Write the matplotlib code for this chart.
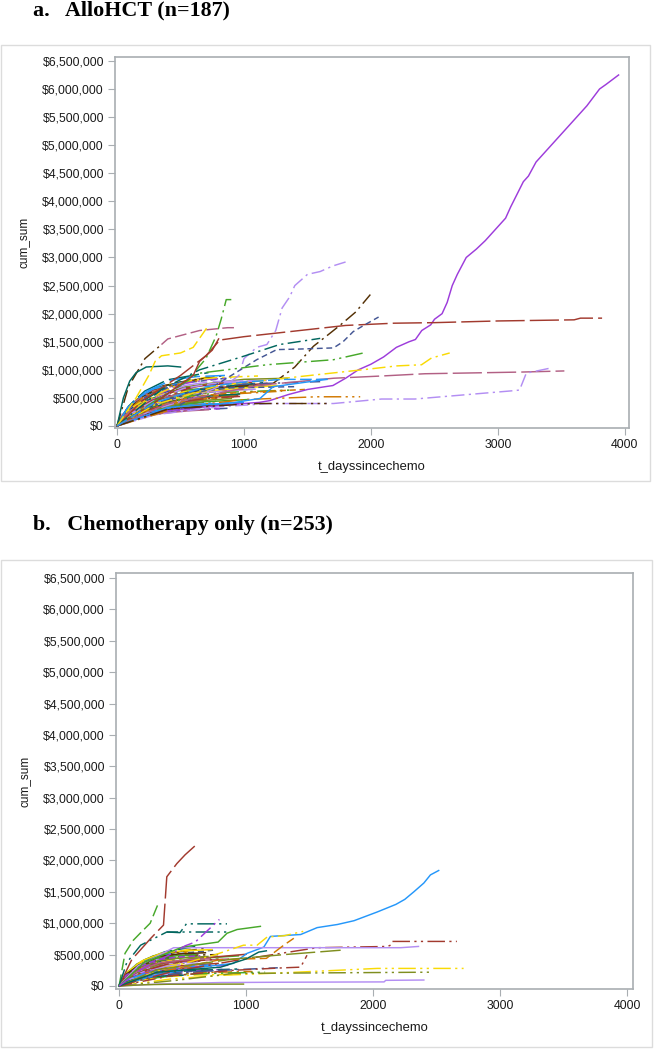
import matplotlib
matplotlib.use("Agg")
import matplotlib.pyplot as plt
from matplotlib.patches import Rectangle
from matplotlib.ticker import FuncFormatter

W, H = 654, 1050

yticks = [0, 500000, 1000000, 1500000, 2000000, 2500000, 3000000, 3500000,
          4000000, 4500000, 5000000, 5500000, 6000000, 6500000]
xticks = [0, 1000, 2000, 3000, 4000]
title_a = "a.   AlloHCT (n=187)"
title_b = "b.   Chemotherapy only (n=253)"

# SAS default group colours
PALETTE = ["#445694", "#A23A2E", "#01665E", "#543005", "#9D3CDB", "#7F8E1F",
           "#2597FA", "#B26084", "#D17800", "#47A82A", "#B38EF3", "#F9DA04"]
SOLID = "-"
LONG = (0, (20, 3.5))
DASH = (0, (8, 3))
SHORT = (0, (4, 2.5))
DDOT = (0, (9, 3, 1.5, 3))
DDD = (0, (12, 3, 1.5, 3, 1.5, 3))
PATTERNS = [SOLID, DASH, DDOT, SHORT, DDD, LONG, SOLID, DDOT]

# --- a. the curves you can follow by eye
a_long_days = [
    [0, 300, 700, 1000, 1120, 1200, 1350, 1500, 1640, 1700, 1800, 1900, 2000, 2100, 2200, 2300, 2350, 2400,
     2470, 2500, 2560, 2600, 2640, 2680, 2750, 2830, 2900, 3000, 3060, 3100, 3200, 3240, 3300, 3400, 3500,
     3600, 3700, 3800, 3850, 3950],
    [0, 200, 500, 700, 810, 1000, 1440, 1800, 2180, 2500, 3000, 3600, 3650, 3820],
    [0, 300, 600, 900, 960, 1000, 1100, 1180, 1250, 1300, 1360, 1400, 1500, 1600, 1700, 1800],
    [0, 300, 550, 700, 780, 820, 860, 900],
    [1230, 1400, 1547, 1660, 1760, 1880, 1995],
    [0, 90, 220, 350],
    [350, 400, 650, 870, 950],
    [0, 500, 800, 1100, 1258, 1440, 1705, 1780, 1860, 1950, 2060],
    [0, 350, 650, 995, 1280, 1600],
    [0, 300, 650, 1180, 1705, 1940],
    [0, 300, 800, 1440, 1970, 2205, 2398, 2476, 2620],
    [0, 400, 1100, 1705, 2084, 2424, 3183, 3523],
    [0, 300, 800, 1200, 1705, 2084, 2346, 3131, 3170, 3223, 3432],
    [0, 500, 1000, 1574, 1915],
    [0, 400, 900, 1126, 1230, 1650],
    [0, 400, 1000, 1126, 1650],
    [0, 20, 50, 100, 150, 230, 400, 500],
    [0, 150, 250, 300, 350, 500, 600, 705],
    [0, 300, 600, 650, 750, 800],
    [0, 300, 700, 1000, 1300, 1680],
]
a_long_cost = [
    [0, 250000, 340000, 400000, 420000, 450000, 560000, 650000, 700000, 720000, 850000, 1000000, 1100000,
     1230000, 1400000, 1500000, 1540000, 1700000, 1800000, 1900000, 2000000, 2200000, 2500000, 2700000,
     3000000, 3150000, 3300000, 3550000, 3700000, 3900000, 4350000, 4450000, 4700000, 4950000, 5200000,
     5450000, 5700000, 6000000, 6080000, 6250000],
    [0, 450000, 900000, 1250000, 1530000, 1590000, 1700000, 1790000, 1830000, 1840000, 1870000,
     1890000, 1920000, 1920000],
    [0, 300000, 500000, 800000, 900000, 1200000, 1400000, 1450000, 1700000, 2100000, 2300000, 2500000,
     2700000, 2750000, 2850000, 2920000],
    [0, 420000, 800000, 1200000, 1600000, 1900000, 2250000, 2250000],
    [760000, 1050000, 1420000, 1620000, 1800000, 2030000, 2340000],
    [0, 700000, 1200000, 1450000],
    [1450000, 1550000, 1700000, 1750000, 1750000],
    [0, 380000, 760000, 1180000, 1360000, 1370000, 1390000, 1500000, 1680000, 1800000, 1940000],
    [0, 650000, 1000000, 1240000, 1450000, 1560000],
    [0, 450000, 940000, 1090000, 1180000, 1300000],
    [0, 380000, 720000, 880000, 1010000, 1070000, 1090000, 1210000, 1300000],
    [0, 400000, 720000, 850000, 890000, 930000, 960000, 980000],
    [0, 200000, 340000, 400000, 400000, 480000, 480000, 630000, 640000, 940000, 1040000],
    [0, 340000, 470000, 520000, 520000],
    [0, 330000, 410000, 490000, 700000, 830000],
    [0, 300000, 390000, 400000, 400000],
    [0, 200000, 500000, 800000, 950000, 1050000, 1070000, 1050000],
    [0, 500000, 900000, 1150000, 1250000, 1300000, 1400000, 1740000],
    [0, 420000, 900000, 1150000, 1350000, 1550000],
    [0, 420000, 700000, 780000, 830000, 830000],
]
a_long_colors = [PALETTE[4], PALETTE[1], PALETTE[10], PALETTE[9], PALETTE[3], PALETTE[3],
                 PALETTE[7], PALETTE[0], PALETTE[2], PALETTE[9], PALETTE[11], PALETTE[7],
                 PALETTE[10], PALETTE[8], PALETTE[6], PALETTE[3], PALETTE[2], PALETTE[11],
                 PALETTE[1], PALETTE[6]]
a_long_styles = [SOLID, LONG, DDOT, DDOT, DDOT, DDOT, DASH, SHORT, DDOT, DDD, DDOT, LONG,
                 DDOT, DDD, SOLID, DDD, SOLID, DASH, SOLID, DASH]

# --- a. the dense bundle near the origin
a_bundle_days = [
    [0, 60, 150, 300, 420], [0, 40, 120, 260, 480], [0, 80, 200, 350, 560], [0, 30, 90, 210, 390],
    [0, 70, 180, 320, 620], [0, 50, 130, 280, 510], [0, 90, 220, 400, 700], [0, 25, 70, 180, 340],
    [0, 65, 160, 310, 590], [0, 45, 110, 250, 460], [0, 100, 240, 430, 760], [0, 35, 100, 230, 410],
    [0, 75, 190, 360, 640], [0, 55, 140, 270, 530], [0, 85, 210, 380, 680], [0, 20, 60, 150, 300],
    [0, 95, 230, 450, 820], [0, 42, 115, 240, 440], [0, 68, 170, 330, 600], [0, 52, 125, 290, 500],
    [0, 110, 260, 470, 880], [0, 33, 85, 200, 370], [0, 78, 195, 370, 660], [0, 58, 145, 300, 550],
    [0, 120, 280, 520, 950], [0, 28, 75, 170, 320], [0, 88, 215, 410, 730], [0, 48, 118, 255, 470],
    [0, 72, 175, 340, 610], [0, 62, 155, 295, 570], [0, 130, 300, 560, 1020], [0, 38, 95, 220, 400],
    [0, 82, 205, 390, 700], [0, 44, 105, 235, 430], [0, 105, 250, 490, 850], [0, 22, 65, 160, 310],
    [0, 92, 225, 420, 780], [0, 56, 135, 285, 520], [0, 66, 165, 325, 580], [0, 36, 88, 205, 380],
    [0, 140, 320, 600, 1100], [0, 76, 185, 350, 630], [0, 50, 128, 265, 490], [0, 115, 270, 500, 900],
    [0, 30, 80, 190, 360], [0, 98, 235, 440, 800], [0, 60, 150, 305, 540], [0, 84, 200, 375, 670],
    [0, 150, 360, 640, 1180], [0, 46, 112, 245, 450], [0, 70, 178, 335, 595], [0, 125, 290, 540, 980],
    [0, 26, 72, 175, 330], [0, 90, 218, 395, 720], [0, 54, 132, 275, 505], [0, 108, 255, 480, 870],
]
a_bundle_cost = [
    [0, 180000, 320000, 470000, 540000], [0, 130000, 280000, 420000, 590000],
    [0, 240000, 410000, 560000, 640000], [0, 90000, 190000, 330000, 480000],
    [0, 150000, 300000, 430000, 520000], [0, 200000, 370000, 600000, 700000],
    [0, 170000, 290000, 390000, 470000], [0, 110000, 260000, 440000, 620000],
    [0, 260000, 480000, 690000, 800000], [0, 120000, 220000, 310000, 390000],
    [0, 210000, 350000, 510000, 610000], [0, 160000, 340000, 540000, 730000],
    [0, 140000, 250000, 350000, 420000], [0, 230000, 430000, 630000, 760000],
    [0, 190000, 330000, 450000, 500000], [0, 70000, 150000, 260000, 360000],
    [0, 280000, 460000, 620000, 700000], [0, 100000, 210000, 300000, 370000],
    [0, 220000, 400000, 580000, 680000], [0, 175000, 360000, 500000, 650000],
    [0, 125000, 240000, 340000, 410000], [0, 145000, 310000, 490000, 660000],
    [0, 300000, 520000, 720000, 840000], [0, 85000, 180000, 280000, 350000],
    [0, 250000, 380000, 480000, 540000], [0, 60000, 130000, 230000, 310000],
    [0, 320000, 550000, 740000, 880000], [0, 165000, 345000, 530000, 710000],
    [0, 115000, 205000, 290000, 340000], [0, 195000, 385000, 570000, 690000],
    [0, 270000, 440000, 590000, 650000], [0, 80000, 170000, 270000, 330000],
    [0, 205000, 365000, 520000, 580000], [0, 135000, 275000, 405000, 560000],
    [0, 340000, 600000, 780000, 900000], [0, 65000, 140000, 250000, 320000],
    [0, 155000, 265000, 370000, 440000], [0, 225000, 455000, 660000, 780000],
    [0, 185000, 325000, 465000, 530000], [0, 95000, 200000, 320000, 430000],
    [0, 290000, 470000, 640000, 720000], [0, 105000, 195000, 280000, 345000],
    [0, 235000, 420000, 610000, 740000], [0, 360000, 580000, 760000, 860000],
    [0, 75000, 160000, 240000, 300000], [0, 215000, 355000, 475000, 545000],
    [0, 128000, 235000, 325000, 380000], [0, 265000, 495000, 700000, 820000],
    [0, 310000, 500000, 650000, 760000], [0, 88000, 175000, 260000, 325000],
    [0, 245000, 415000, 555000, 625000], [0, 148000, 255000, 345000, 400000],
    [0, 55000, 125000, 215000, 285000], [0, 350000, 620000, 820000, 950000],
    [0, 178000, 315000, 460000, 575000], [0, 112000, 190000, 270000, 315000],
]

# --- a. curves that go flat after the first year
a_flat_days = [
    [0, 120, 300, 520, 800, 1000, 1340], [0, 90, 260, 480, 700, 1120], [0, 140, 350, 560, 760, 1210],
    [0, 100, 240, 430, 620, 920], [0, 160, 380, 600, 850, 1080], [0, 70, 210, 400, 650, 1000],
    [0, 110, 280, 500, 780, 1260], [0, 130, 320, 540, 720, 860], [0, 80, 230, 450, 680, 1030],
    [0, 150, 360, 580, 820, 1150], [0, 60, 190, 380, 590, 780], [0, 170, 400, 640, 900, 1400],
    [0, 95, 250, 470, 690, 950], [0, 125, 310, 530, 740, 1180], [0, 75, 220, 420, 610, 830],
    [0, 145, 340, 570, 830, 1300], [0, 105, 270, 490, 710, 1060], [0, 85, 235, 440, 640, 890],
    [0, 135, 330, 550, 770, 1110], [0, 65, 200, 390, 580, 810], [0, 155, 370, 590, 860, 1380],
    [0, 115, 290, 510, 750, 970], [0, 55, 180, 370, 560, 720], [0, 175, 410, 660, 940, 1600],
    [0, 90, 245, 460, 660, 900], [0, 120, 305, 525, 735, 1070], [0, 70, 215, 410, 600, 770],
    [0, 140, 345, 575, 840, 1480], [0, 100, 265, 485, 700, 1000], [0, 80, 225, 435, 630, 850],
]
a_flat_cost = [
    [0, 230000, 480000, 690000, 780000, 830000, 850000], [0, 180000, 360000, 520000, 600000, 660000],
    [0, 200000, 420000, 590000, 680000, 740000], [0, 140000, 280000, 400000, 470000, 520000],
    [0, 260000, 520000, 700000, 770000, 800000], [0, 110000, 230000, 340000, 390000, 420000],
    [0, 190000, 390000, 560000, 640000, 720000], [0, 280000, 560000, 760000, 830000, 850000],
    [0, 130000, 260000, 360000, 430000, 470000], [0, 210000, 440000, 620000, 700000, 770000],
    [0, 90000, 190000, 280000, 330000, 350000], [0, 240000, 460000, 610000, 680000, 700000],
    [0, 150000, 310000, 440000, 510000, 560000], [0, 250000, 500000, 720000, 790000, 810000],
    [0, 100000, 210000, 300000, 360000, 380000], [0, 170000, 340000, 470000, 560000, 620000],
    [0, 220000, 450000, 650000, 730000, 780000], [0, 120000, 240000, 330000, 380000, 400000],
    [0, 300000, 580000, 800000, 860000, 890000], [0, 80000, 170000, 250000, 290000, 310000],
    [0, 200000, 400000, 540000, 600000, 640000], [0, 160000, 330000, 480000, 540000, 570000],
    [0, 70000, 150000, 230000, 270000, 290000], [0, 260000, 490000, 660000, 740000, 790000],
    [0, 135000, 270000, 380000, 450000, 490000], [0, 235000, 470000, 670000, 750000, 800000],
    [0, 95000, 200000, 290000, 340000, 360000], [0, 180000, 370000, 510000, 580000, 650000],
    [0, 145000, 300000, 420000, 490000, 530000], [0, 320000, 610000, 820000, 880000, 900000],
]

# --- b. the curves you can follow by eye
b_long_days = [
    [0, 100, 250, 350, 376, 455, 520, 613],
    [0, 47, 113, 166, 245, 310],
    [0, 300, 640, 900, 1008, 1140, 1192, 1430, 1560, 1720, 1850, 2034, 2180, 2250, 2321, 2400, 2452, 2517],
    [0, 400, 900, 1400, 1560, 2113, 2138, 2151, 2660],
    [0, 150, 430, 2218, 2358],
    [0, 400, 800, 1297, 2034, 2713],
    [0, 450, 900, 2473],
    [0, 300, 800, 1300, 2087, 2100, 2400],
    [0, 200, 400, 980],
    [0, 60, 170, 376, 850],
    [376, 480, 530, 850],
    [0, 200, 500, 780, 850, 930, 1113],
    [0, 300, 760, 980, 1087, 1166, 1300, 1450],
    [0, 300, 800, 1160, 1297, 1376],
    [0, 300, 900, 1300, 1745],
    [0, 400, 900, 1300, 1430, 1480],
    [0, 300, 800, 1000, 1100, 1160],
    [0, 200, 420, 520, 600, 790],
]
b_long_cost = [
    [0, 420000, 760000, 970000, 1740000, 1950000, 2090000, 2260000],
    [0, 520000, 730000, 840000, 1000000, 1320000],
    [0, 180000, 300000, 360000, 520000, 620000, 790000, 820000, 930000, 980000, 1040000, 1180000, 1300000,
     1380000, 1500000, 1640000, 1770000, 1840000],
    [0, 220000, 400000, 560000, 610000, 630000, 650000, 710000, 710000],
    [0, 320000, 610000, 610000, 630000],
    [0, 110000, 170000, 210000, 280000, 280000],
    [0, 90000, 200000, 220000],
    [0, 30000, 55000, 60000, 65000, 90000, 95000],
    [0, 20000, 28000, 30000],
    [0, 370000, 650000, 860000, 860000],
    [860000, 850000, 990000, 990000],
    [0, 380000, 620000, 700000, 840000, 900000, 950000],
    [0, 240000, 500000, 650000, 650000, 780000, 800000, 870000],
    [0, 220000, 420000, 440000, 650000, 760000],
    [0, 260000, 430000, 500000, 570000],
    [0, 160000, 250000, 290000, 300000, 490000],
    [0, 220000, 300000, 430000, 540000, 560000],
    [0, 300000, 520000, 640000, 700000, 1060000],
]
b_long_colors = [PALETTE[1], PALETTE[9], PALETTE[6], PALETTE[1], PALETTE[10], PALETTE[11],
                 PALETTE[5], PALETTE[10], PALETTE[5], PALETTE[2], PALETTE[2], PALETTE[9],
                 PALETTE[11], PALETTE[8], PALETTE[5], PALETTE[1], PALETTE[2], PALETTE[4]]
b_long_styles = [LONG, DASH, SOLID, DDD, SOLID, DDD, DDD, SOLID, SOLID, DDD, DDD, SOLID,
                 DDOT, DASH, LONG, DDOT, SOLID, DDOT]

# --- b. the dense bundle near the origin
b_bundle_days = [
    [0, 50, 130, 260, 420], [0, 35, 95, 200, 360], [0, 70, 170, 320, 520], [0, 25, 70, 160, 300],
    [0, 60, 150, 280, 470], [0, 45, 110, 230, 400], [0, 80, 190, 350, 580], [0, 20, 55, 130, 260],
    [0, 55, 140, 270, 450], [0, 40, 100, 215, 380], [0, 90, 210, 380, 640], [0, 30, 80, 180, 330],
    [0, 65, 160, 300, 500], [0, 48, 120, 245, 430], [0, 75, 180, 335, 550], [0, 18, 50, 120, 240],
    [0, 85, 200, 365, 610], [0, 38, 98, 205, 370], [0, 58, 145, 275, 460], [0, 44, 108, 225, 395],
    [0, 100, 230, 420, 700], [0, 28, 75, 170, 315], [0, 68, 165, 310, 510], [0, 52, 128, 255, 440],
    [0, 110, 260, 470, 780], [0, 22, 60, 140, 275], [0, 78, 185, 345, 565], [0, 42, 105, 220, 390],
    [0, 62, 155, 290, 485], [0, 56, 135, 265, 445], [0, 120, 280, 510, 860], [0, 32, 85, 190, 345],
    [0, 72, 175, 328, 530], [0, 36, 92, 198, 355], [0, 95, 220, 400, 670], [0, 24, 65, 150, 285],
    [0, 82, 195, 358, 595], [0, 46, 115, 235, 410], [0, 60, 148, 283, 475], [0, 34, 88, 195, 350],
    [0, 130, 300, 550, 940], [0, 66, 158, 305, 495], [0, 50, 125, 250, 425], [0, 105, 245, 445, 740],
    [0, 26, 70, 165, 305], [0, 88, 205, 375, 625], [0, 54, 138, 268, 455], [0, 74, 178, 340, 540],
    [0, 140, 330, 600, 1000], [0, 40, 102, 212, 385], [0, 64, 152, 295, 490], [0, 115, 270, 490, 820],
    [0, 20, 58, 135, 268], [0, 84, 198, 362, 600], [0, 47, 118, 240, 415], [0, 98, 225, 410, 685],
]
b_bundle_cost = [
    [0, 120000, 230000, 330000, 390000], [0, 90000, 180000, 280000, 360000],
    [0, 170000, 290000, 390000, 430000], [0, 60000, 130000, 220000, 310000],
    [0, 100000, 200000, 280000, 330000], [0, 140000, 270000, 400000, 470000],
    [0, 110000, 190000, 250000, 300000], [0, 75000, 170000, 290000, 410000],
    [0, 190000, 350000, 480000, 540000], [0, 80000, 150000, 205000, 250000],
    [0, 150000, 240000, 340000, 400000], [0, 105000, 230000, 360000, 480000],
    [0, 95000, 165000, 235000, 280000], [0, 160000, 300000, 430000, 500000],
    [0, 130000, 220000, 295000, 330000], [0, 48000, 100000, 170000, 240000],
    [0, 200000, 310000, 420000, 470000], [0, 68000, 140000, 200000, 245000],
    [0, 155000, 275000, 385000, 450000], [0, 118000, 240000, 330000, 430000],
    [0, 85000, 160000, 225000, 270000], [0, 98000, 205000, 325000, 440000],
    [0, 215000, 360000, 490000, 560000], [0, 58000, 120000, 185000, 230000],
    [0, 175000, 255000, 320000, 360000], [0, 40000, 88000, 150000, 205000],
    [0, 230000, 380000, 500000, 590000], [0, 112000, 228000, 352000, 470000],
    [0, 78000, 138000, 195000, 225000], [0, 135000, 258000, 378000, 460000],
    [0, 185000, 295000, 395000, 430000], [0, 54000, 112000, 180000, 220000],
    [0, 142000, 245000, 345000, 385000], [0, 92000, 185000, 270000, 370000],
    [0, 240000, 400000, 520000, 600000], [0, 44000, 94000, 165000, 215000],
    [0, 108000, 178000, 245000, 290000], [0, 158000, 305000, 440000, 520000],
    [0, 128000, 218000, 310000, 350000], [0, 64000, 135000, 212000, 285000],
    [0, 205000, 315000, 430000, 480000], [0, 72000, 130000, 186000, 230000],
    [0, 165000, 282000, 405000, 490000], [0, 250000, 390000, 510000, 570000],
    [0, 50000, 108000, 160000, 200000], [0, 150000, 238000, 316000, 362000],
    [0, 88000, 158000, 216000, 252000], [0, 185000, 332000, 465000, 545000],
    [0, 220000, 335000, 435000, 505000], [0, 60000, 118000, 172000, 215000],
    [0, 170000, 278000, 370000, 415000], [0, 102000, 172000, 230000, 265000],
    [0, 37000, 84000, 142000, 190000], [0, 245000, 415000, 545000, 630000],
    [0, 122000, 212000, 306000, 382000], [0, 76000, 128000, 180000, 210000],
]

# --- b. curves that go flat after the first year
b_flat_days = [
    [0, 60, 170, 320, 480, 700], [0, 45, 140, 280, 430, 620], [0, 75, 200, 360, 520, 780],
    [0, 55, 155, 300, 460, 650], [0, 90, 230, 400, 580, 820], [0, 35, 120, 250, 400, 560],
    [0, 65, 180, 330, 500, 730], [0, 80, 210, 380, 550, 860], [0, 50, 150, 290, 440, 600],
    [0, 100, 250, 430, 620, 930], [0, 40, 130, 265, 415, 590], [0, 70, 190, 345, 510, 760],
    [0, 85, 220, 390, 570, 800], [0, 30, 105, 230, 380, 520], [0, 60, 165, 310, 470, 680],
    [0, 110, 270, 460, 660, 1050], [0, 45, 145, 285, 435, 610], [0, 75, 195, 355, 530, 750],
    [0, 95, 240, 420, 600, 900], [0, 55, 160, 305, 450, 640], [0, 120, 290, 490, 700, 1150],
    [0, 35, 115, 240, 390, 540], [0, 65, 175, 325, 490, 710], [0, 130, 310, 520, 760, 1250],
]
b_flat_cost = [
    [0, 160000, 300000, 410000, 450000, 470000], [0, 120000, 230000, 320000, 370000, 390000],
    [0, 200000, 350000, 450000, 490000, 500000], [0, 90000, 180000, 250000, 280000, 300000],
    [0, 140000, 260000, 360000, 400000, 430000], [0, 70000, 140000, 210000, 240000, 260000],
    [0, 220000, 400000, 520000, 560000, 580000], [0, 110000, 190000, 260000, 300000, 330000],
    [0, 175000, 320000, 440000, 480000, 500000], [0, 100000, 170000, 230000, 250000, 270000],
    [0, 130000, 240000, 340000, 380000, 400000], [0, 80000, 150000, 200000, 230000, 240000],
    [0, 150000, 280000, 390000, 430000, 450000], [0, 60000, 120000, 170000, 190000, 200000],
    [0, 190000, 340000, 470000, 510000, 530000], [0, 85000, 145000, 195000, 215000, 230000],
    [0, 125000, 250000, 350000, 390000, 410000], [0, 105000, 195000, 270000, 310000, 340000],
    [0, 65000, 115000, 155000, 175000, 185000], [0, 170000, 310000, 420000, 460000, 480000],
    [0, 75000, 130000, 180000, 200000, 220000], [0, 50000, 100000, 145000, 165000, 175000],
    [0, 145000, 270000, 370000, 410000, 440000], [0, 95000, 160000, 215000, 245000, 290000],
]


def box(left, top, right, bottom):
    # pixel box (from the top of the image) to figure fractions
    return [left / W, 1 - bottom / H, (right - left) / W, (bottom - top) / H]


def panel(fig, rect, xlim, ylim, long_days, long_cost, long_colors, long_styles, days, cost):
    ax = fig.add_axes(box(*rect))
    for i, (x, y) in enumerate(zip(days, cost, strict=True)):
        ax.plot(x, y, color=PALETTE[(i * 5 + 1) % 12], ls=PATTERNS[i % 8], lw=1.1)
    for x, y, c, s in zip(long_days, long_cost, long_colors, long_styles, strict=True):
        ax.plot(x, y, color=c, ls=s, lw=1.05)
    ax.set_xlim(*xlim)
    ax.set_ylim(*ylim)
    ax.set_xticks(xticks)
    ax.set_yticks(yticks)
    ax.yaxis.set_major_formatter(FuncFormatter(lambda v, _: f"${v:,.0f}"))
    ax.tick_params(length=5, width=0.8, color="#a9aeb2", labelsize=8.8, labelcolor="#1a1a1a", pad=3)
    for s in ax.spines.values():
        s.set_color("#a9aeb2")
        s.set_linewidth(1.2)
    ax.set_xlabel("t_dayssincechemo", fontsize=9.4, color="#1a1a1a", labelpad=7)
    ax.set_ylabel("cum_sum", fontsize=8.5, color="#1a1a1a", labelpad=9)
    return ax


def main():
    plt.rcParams["font.family"] = ["Liberation Sans", "DejaVu Sans"]
    fig = plt.figure(figsize=(W / 100, H / 100), dpi=100)

    # light frames round each plot image
    for left, top, right, bottom in ((1, 45, 650, 481), (1, 560, 652, 1047)):
        fig.patches.append(Rectangle((left / W, 1 - bottom / H), (right - left) / W, (bottom - top) / H,
                                     transform=fig.transFigure, fill=False, ec="#dcdcdc", lw=1.0))

    fig.text(33 / W, 1 - 15 / H, title_a, family="Liberation Serif", weight="bold", fontsize=15.8, va="baseline")
    fig.text(33 / W, 1 - 530 / H, title_b, family="Liberation Serif", weight="bold", fontsize=15.8, va="baseline")

    panel(fig, (115, 57, 629, 428), (-16, 4032), (-36000, 6570000),
          a_long_days, a_long_cost, a_long_colors, a_long_styles,
          a_bundle_days + a_flat_days, a_bundle_cost + a_flat_cost)
    panel(fig, (116, 573, 633, 989), (-24, 4047), (-48000, 6580000),
          b_long_days, b_long_cost, b_long_colors, b_long_styles,
          b_bundle_days + b_flat_days, b_bundle_cost + b_flat_cost)

    fig.savefig("out.png", dpi=100)


if __name__ == "__main__":
    main()
